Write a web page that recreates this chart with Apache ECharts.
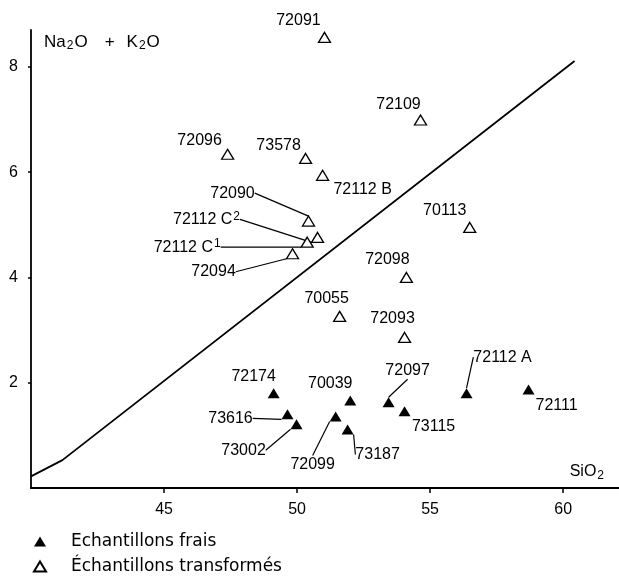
<!DOCTYPE html>
<html>
<head>
<meta charset="utf-8">
<script src="https://cdn.jsdelivr.net/npm/echarts@6/dist/echarts.min.js"></script>
<style>
  html, body { margin: 0; padding: 0; background: #fff; }
  #chart { width: 619px; height: 576px; }
</style>
</head>
<body>
<div id="chart"></div>
<script>
// échantillons frais (triangles pleins)
const fraisNames = ['72174', '73616', '73002', '70039', '72099', '73187', '72097', '73115', '72112 A', '72111'];
const fraisSiO2  = [49.12, 49.64, 49.98, 52.0, 51.45, 51.9, 53.44, 54.04, 56.37, 58.7];
const fraisAlk   = [1.80, 1.40, 1.21, 1.66, 1.36, 1.11, 1.63, 1.46, 1.80, 1.87];

// échantillons transformés (triangles vides)
const transNames = ['72091', '72109', '72096', '73578', '72112 B', '72090', '72112 C²', '72112 C¹', '72094', '70113', '72098', '70055', '72093'];
const transSiO2  = [51.03, 54.64, 47.39, 50.32, 50.96, 50.43, 50.77, 50.38, 49.83, 56.49, 54.11, 51.6, 54.04];
const transAlk   = [8.56, 6.99, 6.34, 6.26, 5.94, 5.07, 4.76, 4.67, 4.45, 4.95, 4.0, 3.26, 2.86];

// droite de séparation
const lineSiO2 = [40, 41.18, 60.43];
const lineAlk  = [0.22, 0.53, 8.11];

const xTicks = [45, 50, 55, 60];
const yTicks = [2, 4, 6, 8];

// placement des étiquettes (décalage du centre du texte, en px)
const labelOffsets = {
  '72091': [-26, -17], '72109': [-22, -15], '72096': [-28, -14], '73578': [-27, -13],
  '72112 B': [40, 14], '72090': [-76, -28], '72112 C²': [-111, -18], '72112 C¹': [-120, 5],
  '72094': [-79, 18], '70113': [-25, -17], '72098': [-19, -18], '70055': [-13, -18],
  '72093': [-12, -19], '72174': [-20, -17], '73616': [-57, 4], '73002': [-53, 26],
  '70039': [-20, -17], '72099': [-23, 48], '73187': [30, 25], '72097': [19, -32],
  '73115': [29, 15], '72112 A': [36, -36], '72111': [28, 16]
};
const withLeader = ['72090', '72112 C²', '72112 C¹', '72094', '73616', '73002', '72099', '73187', '72097', '72112 A'];

const FONT = "'Liberation Sans', Arial, sans-serif";
const seriesNames = [fraisNames, transNames];

function buildPoints(names, xs, ys) {
  return names.map((n, i) => ({
    name: n,
    value: [xs[i], ys[i]],
    labelLine: { show: withLeader.includes(n) }
  }));
}

// exposants ¹ ² en texte riche
function labelText(p) {
  return p.name.replace(/[¹²]/, m => '{sup|' + (m === '²' ? '2' : '1') + '}');
}

const chart = echarts.init(document.getElementById('chart'));

const labelCfg = {
  show: true,
  position: 'inside',
  formatter: labelText,
  color: '#000',
  fontFamily: FONT,
  fontSize: 16,
  lineHeight: 18,
  rich: {
    sup: { fontSize: 12, lineHeight: 12, verticalAlign: 'top', color: '#000', fontFamily: FONT, padding: [0, 0, 0, 1] }
  }
};
const labelLineCfg = {
  show: false,
  length2: 0,
  lineStyle: { color: '#000', width: 1.2 }
};

const subStyle = { fontSize: 12, lineHeight: 12, verticalAlign: 'bottom', color: '#000', fontFamily: FONT, padding: [0, 1, 0, 1] };

const option = {
  animation: false,
  grid: { left: 31, right: 0, top: 30, bottom: 88 },
  xAxis: {
    type: 'value',
    min: 40,
    max: 62.1,
    interval: 5,
    name: 'SiO{s|2}',
    nameLocation: 'end',
    nameGap: -14,
    nameTextStyle: {
      color: '#000', fontFamily: FONT, fontSize: 16, lineHeight: 20,
      align: 'right', verticalAlign: 'bottom', padding: [0, 0, 6, 0],
      rich: { s: subStyle }
    },
    splitLine: { show: false },
    axisLine: { lineStyle: { color: '#000', width: 1.8 } },
    axisTick: { customValues: xTicks, length: 5, lineStyle: { color: '#000', width: 1.5 } },
    axisLabel: { customValues: xTicks, color: '#000', fontFamily: FONT, fontSize: 16, margin: 14 }
  },
  yAxis: {
    type: 'value',
    min: 0,
    max: 8.7,
    interval: 2,
    name: 'Na{s|2}O{p|+}K{s|2}O',
    nameLocation: 'end',
    nameGap: -2,
    nameTextStyle: {
      color: '#000', fontFamily: FONT, fontSize: 17, lineHeight: 20,
      align: 'left', verticalAlign: 'top', padding: [0, 0, 0, 13],
      rich: {
        s: subStyle,
        p: { fontSize: 17, lineHeight: 20, color: '#000', fontFamily: FONT, padding: [0, 12, 0, 17] }
      }
    },
    splitLine: { show: false },
    axisLine: { show: true, lineStyle: { color: '#000', width: 1.8 } },
    axisTick: { show: true, customValues: yTicks, length: 3, lineStyle: { color: '#000', width: 1.5 } },
    axisLabel: { customValues: yTicks, color: '#000', fontFamily: FONT, fontSize: 16, margin: 13 }
  },
  legend: {
    data: ['Echantillons frais', 'Échantillons transformés'],
    orient: 'vertical',
    left: 33,
    top: 533,
    padding: 0,
    itemWidth: 12,
    itemHeight: 10,
    itemGap: 8,
    selectedMode: false,
    textStyle: { color: '#000', fontFamily: "'DejaVu Sans', sans-serif", fontSize: 17, lineHeight: 17, padding: [0, 0, 0, 20] }
  },
  series: [
    {
      name: 'Echantillons frais',
      type: 'scatter',
      symbol: 'triangle',
      symbolSize: [12, 10],
      itemStyle: { color: '#000', opacity: 1 },
      data: buildPoints(fraisNames, fraisSiO2, fraisAlk),
      label: labelCfg,
      labelLine: labelLineCfg
    },
    {
      name: 'Échantillons transformés',
      type: 'scatter',
      symbol: 'triangle',
      symbolSize: [12, 10],
      itemStyle: { color: '#fff', borderColor: '#000', borderWidth: 1.3, opacity: 1 },
      data: buildPoints(transNames, transSiO2, transAlk),
      label: labelCfg,
      labelLine: labelLineCfg
    },
    {
      type: 'line',
      silent: true,
      symbol: 'none',
      z: 1,
      lineStyle: { color: '#000', width: 1.8 },
      data: lineSiO2.map((x, i) => [x, lineAlk[i]])
    }
  ],
  labelLayout: function (p) {
    const names = seriesNames[p.seriesIndex];
    if (!names) return {};
    const o = labelOffsets[names[p.dataIndex]];
    if (!o) return {};
    return { dx: o[0], dy: o[1] };
  }
};

chart.setOption(option);
</script>
</body>
</html>
